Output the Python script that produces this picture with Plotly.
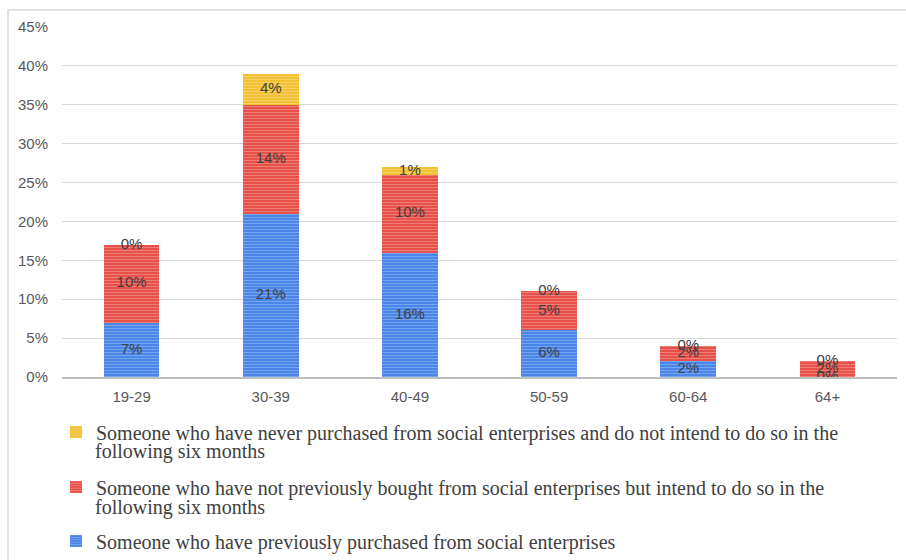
import plotly.graph_objects as go
import numpy as np

categories = ["19-29", "30-39", "40-49", "50-59", "60-64", "64+"]
previously = [7, 21, 16, 6, 2, 0]
intend = [10, 14, 10, 5, 2, 2]
never = [0, 4, 1, 0, 0, 0]
names = [
    "Someone who have previously purchased from social enterprises",
    "Someone who have not previously bought from social enterprises but intend to do so in the",
    "Someone who have never purchased from social enterprises and do not intend to do so in the",
]
second_lines = ["", "following six months", "following six months"]
colors = ["#4a86e8", "#e8514a", "#f4c133"]
tick_vals = [0, 5, 10, 15, 20, 25, 30, 35, 40, 45]

series = [previously, intend, never]
legends = ["legend3", "legend2", "legend"]

L, T = 62, 27
PW, PH = 835, 350
def px(x):
    return (x - L) / PW
def py(y):
    return (T + PH - y) / PH

LEG_FONT = dict(family="Liberation Serif", size=20, color="#404040")

fig = go.Figure()
base = np.zeros(len(categories))
for vals, name, col, lg in zip(series, names, colors, legends):
    v = np.array(vals, dtype=float)
    fig.add_trace(go.Bar(
        x=categories, y=v, name=name, width=0.4,
        marker=dict(color=col, line=dict(width=0),
                    pattern=dict(shape="-", fillmode="overlay", fgcolor="rgba(255,255,255,0.55)",
                                 size=3, solidity=0.3)),
        legend=lg, hoverinfo="skip",
    ))
    fig.add_trace(go.Scatter(
        x=categories, y=base + v / 2, mode="text",
        text=[f"{int(t)}%" for t in v],
        textfont=dict(family="Liberation Sans", size=15, color="#404040"),
        showlegend=False, hoverinfo="skip",
    ))
    base = base + v

legend_common = dict(
    font=LEG_FONT, bgcolor="rgba(0,0,0,0)", xanchor="left", yanchor="middle",
    itemwidth=30, itemsizing="constant", tracegroupgap=0,
)

annotations = []
for txt, yy in zip(second_lines[1:], [507, 452]):
    annotations.append(dict(text=txt, xref="paper", yref="paper", x=px(93), y=py(yy),
                            xanchor="left", yanchor="middle", showarrow=False,
                            font=LEG_FONT))

fig.update_layout(
    width=906, height=560,
    margin=dict(l=L, r=906 - L - PW, t=T, b=560 - T - PH, autoexpand=False),
    barmode="stack", bargap=0.6,
    plot_bgcolor="white", paper_bgcolor="white",
    xaxis=dict(showgrid=False, showline=True, linecolor="#bfbfbf", linewidth=1.5,
               ticks="", tickfont=dict(family="Liberation Sans", size=15, color="#595959"),
               ticklabelstandoff=5, fixedrange=True),
    yaxis=dict(range=[0, 45], tickvals=tick_vals, ticktext=[f"{t}%" for t in tick_vals],
               showgrid=True, gridcolor="#d9d9d9", gridwidth=1, zeroline=False,
               tickfont=dict(family="Liberation Sans", size=15, color="#595959"),
               ticklabelstandoff=13, fixedrange=True),
    legend=dict(x=px(56), y=py(432), **legend_common),
    legend2=dict(x=px(56), y=py(487), **legend_common),
    legend3=dict(x=px(56), y=py(541), **legend_common),
    annotations=annotations,
    shapes=[dict(type="rect", xref="paper", yref="paper",
                 x0=px(8), x1=px(912), y0=py(570), y1=py(10),
                 line=dict(color="#d9d9d9", width=1.5), layer="below")],
)

fig.write_html("out.html")
